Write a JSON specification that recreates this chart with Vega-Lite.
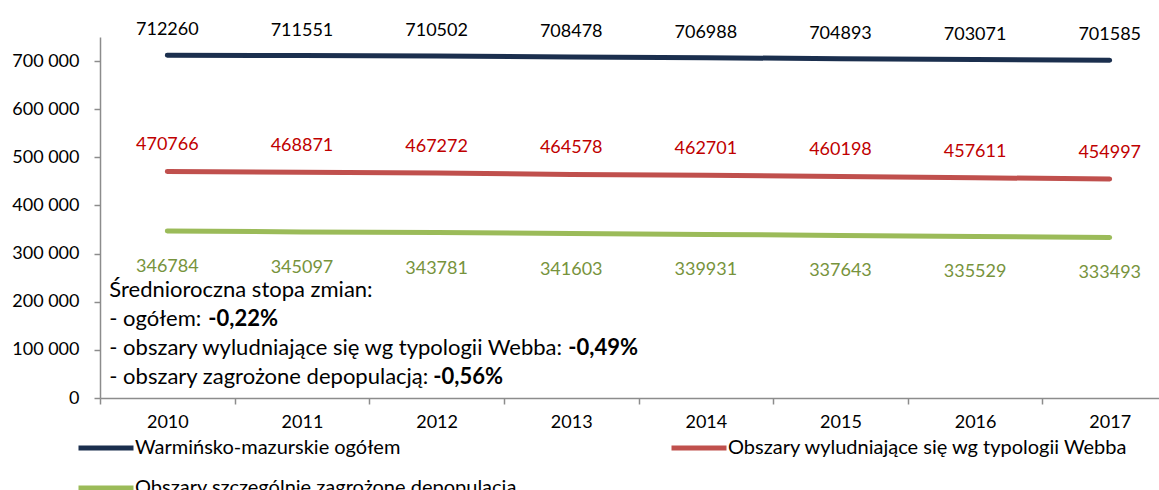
{
  "$schema": "https://vega.github.io/schema/vega-lite/v6.json",
  "autosize": {"type": "none"},
  "width": 1077,
  "height": 361,
  "padding": {"left": 100, "top": 37, "right": 0, "bottom": 92},
  "config": {
    "font": "Lato",
    "view": {"stroke": null},
    "locale": {"number": {"decimal": ",", "thousands": " ", "grouping": [3], "currency": ["", " zł"]}},
    "axis": {"domainColor": "#8C8C8C", "tickColor": "#8C8C8C", "domainWidth": 1.5, "tickWidth": 1.5, "tickSize": 6, "labelColor": "#000000", "labelFont": "Lato", "labelFontSize": 18, "grid": false, "title": null}
  },
  "datasets": {
    "pop": [
      {"year": "2010", "series": "Warmińsko-mazurskie ogółem", "value": 712260},
      {"year": "2011", "series": "Warmińsko-mazurskie ogółem", "value": 711551},
      {"year": "2012", "series": "Warmińsko-mazurskie ogółem", "value": 710502},
      {"year": "2013", "series": "Warmińsko-mazurskie ogółem", "value": 708478},
      {"year": "2014", "series": "Warmińsko-mazurskie ogółem", "value": 706988},
      {"year": "2015", "series": "Warmińsko-mazurskie ogółem", "value": 704893},
      {"year": "2016", "series": "Warmińsko-mazurskie ogółem", "value": 703071},
      {"year": "2017", "series": "Warmińsko-mazurskie ogółem", "value": 701585},
      {"year": "2010", "series": "Obszary wyludniające się wg typologii Webba", "value": 470766},
      {"year": "2011", "series": "Obszary wyludniające się wg typologii Webba", "value": 468871},
      {"year": "2012", "series": "Obszary wyludniające się wg typologii Webba", "value": 467272},
      {"year": "2013", "series": "Obszary wyludniające się wg typologii Webba", "value": 464578},
      {"year": "2014", "series": "Obszary wyludniające się wg typologii Webba", "value": 462701},
      {"year": "2015", "series": "Obszary wyludniające się wg typologii Webba", "value": 460198},
      {"year": "2016", "series": "Obszary wyludniające się wg typologii Webba", "value": 457611},
      {"year": "2017", "series": "Obszary wyludniające się wg typologii Webba", "value": 454997},
      {"year": "2010", "series": "Obszary szczególnie zagrożone depopulacją", "value": 346784},
      {"year": "2011", "series": "Obszary szczególnie zagrożone depopulacją", "value": 345097},
      {"year": "2012", "series": "Obszary szczególnie zagrożone depopulacją", "value": 343781},
      {"year": "2013", "series": "Obszary szczególnie zagrożone depopulacją", "value": 341603},
      {"year": "2014", "series": "Obszary szczególnie zagrożone depopulacją", "value": 339931},
      {"year": "2015", "series": "Obszary szczególnie zagrożone depopulacją", "value": 337643},
      {"year": "2016", "series": "Obszary szczególnie zagrożone depopulacją", "value": 335529},
      {"year": "2017", "series": "Obszary szczególnie zagrożone depopulacją", "value": 333493}
    ],
    "note": [
      {"lines": ["Średnioroczna stopa zmian:", "- ogółem: ", "- obszary wyludniające się wg typologii Webba: ", "- obszary zagrożone depopulacją: "], "b1": "-0,22%", "b2": "-0,49%", "b3": "-0,56%"}
    ]
  },
  "layer": [
    {
      "data": {"name": "pop"},
      "mark": {"type": "line", "strokeWidth": 5, "strokeCap": "round"},
      "encoding": {
        "x": {"field": "year", "type": "ordinal", "bandPosition": 0.5,
          "scale": {"type": "band", "paddingInner": 0, "paddingOuter": 0},
          "axis": {"tickBand": "extent", "labelAngle": 0, "labelPadding": 9, "labelBaseline": "top"}},
        "y": {"field": "value", "type": "quantitative",
          "scale": {"domain": [0, 750000], "nice": false},
          "axis": {"values": [0, 100000, 200000, 300000, 400000, 500000, 600000, 700000], "format": ",d", "labelPadding": 15}},
        "color": {"field": "series", "type": "nominal",
          "scale": {"domain": ["Warmińsko-mazurskie ogółem", "Obszary wyludniające się wg typologii Webba", "Obszary szczególnie zagrożone depopulacją"], "range": ["#1B2F4E", "#C0504D", "#9BBB59"]},
          "legend": {"orient": "none", "legendX": -24, "legendY": 381, "title": null, "columns": 2, "columnPadding": 144, "rowPadding": -27, "padding": 0,
            "symbolType": "stroke", "symbolSize": 3025, "symbolStrokeWidth": 5, "labelFontSize": 20, "labelFont": "Lato", "labelColor": "#000000", "labelOffset": -1, "labelLimit": 0, "direction": "horizontal"}}
      }
    },
    {
      "data": {"name": "pop"},
      "transform": [{"filter": "datum.series === 'Warmińsko-mazurskie ogółem'"}],
      "mark": {"type": "text", "dy": -25, "fontSize": 18, "color": "#000000"},
      "encoding": {"x": {"field": "year", "type": "ordinal", "bandPosition": 0.5}, "y": {"field": "value", "type": "quantitative"}, "text": {"field": "value", "type": "quantitative", "format": "d"}}
    },
    {
      "data": {"name": "pop"},
      "transform": [{"filter": "datum.series === 'Obszary wyludniające się wg typologii Webba'"}],
      "mark": {"type": "text", "dy": -26, "fontSize": 18, "color": "#C00000"},
      "encoding": {"x": {"field": "year", "type": "ordinal", "bandPosition": 0.5}, "y": {"field": "value", "type": "quantitative"}, "text": {"field": "value", "type": "quantitative", "format": "d"}}
    },
    {
      "data": {"name": "pop"},
      "transform": [{"filter": "datum.series === 'Obszary szczególnie zagrożone depopulacją'"}],
      "mark": {"type": "text", "dy": 36, "fontSize": 18, "color": "#77933C"},
      "encoding": {"x": {"field": "year", "type": "ordinal", "bandPosition": 0.5}, "y": {"field": "value", "type": "quantitative"}, "text": {"field": "value", "type": "quantitative", "format": "d"}}
    },
    {
      "data": {"name": "note"},
      "mark": {"type": "text", "align": "left", "baseline": "middle", "dx": -58, "fontSize": 22, "lineHeight": 29, "color": "#000000"},
      "encoding": {"x": {"datum": "2010", "type": "ordinal", "bandPosition": 0.5}, "y": {"datum": 224400}, "text": {"field": "lines"}}
    },
    {
      "data": {"name": "note"},
      "mark": {"type": "text", "align": "left", "baseline": "middle", "dx": 41, "fontSize": 22, "fontWeight": "bold", "color": "#000000"},
      "encoding": {"x": {"datum": "2010", "type": "ordinal", "bandPosition": 0.5}, "y": {"datum": 164100}, "text": {"field": "b1"}}
    },
    {
      "data": {"name": "note"},
      "mark": {"type": "text", "align": "left", "baseline": "middle", "dx": 401, "fontSize": 22, "fontWeight": "bold", "color": "#000000"},
      "encoding": {"x": {"datum": "2010", "type": "ordinal", "bandPosition": 0.5}, "y": {"datum": 103900}, "text": {"field": "b2"}}
    },
    {
      "data": {"name": "note"},
      "mark": {"type": "text", "align": "left", "baseline": "middle", "dx": 266, "fontSize": 22, "fontWeight": "bold", "color": "#000000"},
      "encoding": {"x": {"datum": "2010", "type": "ordinal", "bandPosition": 0.5}, "y": {"datum": 43600}, "text": {"field": "b3"}}
    }
  ]
}
